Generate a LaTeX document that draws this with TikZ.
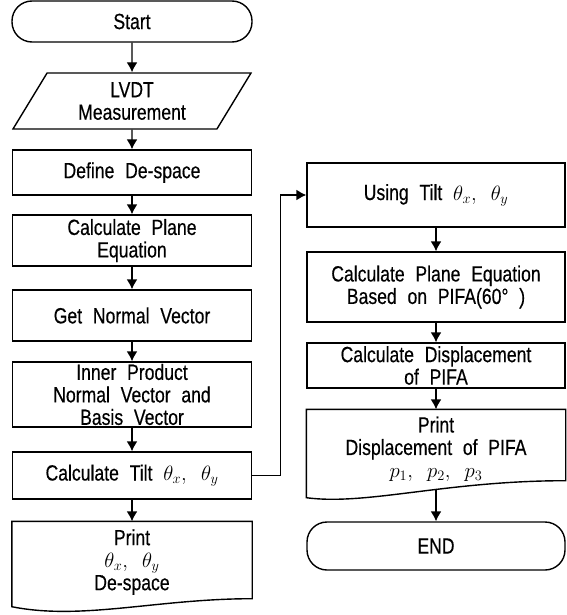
\documentclass[tikz,border=0pt]{standalone}
\usepackage{fontspec}
\setmainfont[FakeStretch=0.8,FakeBold=0.4,WordSpace=2.2]{Liberation Sans}
\usetikzlibrary{arrows.meta,shapes.geometric}
\newcommand{\flowfont}{\fontsize{22}{22.5}\selectfont}
\tikzset{
  box/.style={draw, rectangle, inner sep=0pt, align=center, font=\flowfont},
  term/.style={box, rounded corners=20pt},
  io/.style={draw, trapezium, trapezium left angle=48, trapezium right angle=132,
    trapezium stretches body, inner sep=0pt, align=center, font=\flowfont},
  docbox/.style={rectangle, inner sep=0pt, align=center, font=\flowfont}
}
\begin{document}
\begin{tikzpicture}[node distance=70pt, line width=1.4pt, >={Latex[length=10pt,width=11pt]}]
\useasboundingbox (0,0) rectangle (566pt,-615pt);

% left column
\node (start) [term, minimum width=240pt, minimum height=41pt] at (132pt,-21.5pt) {Start};
\node (lvdt) [io, below of=start, node distance=79.5pt, minimum width=238pt, minimum height=56pt] {LVDT\\Measurement};
\node (defs) [box, below of=lvdt, node distance=71.5pt, minimum width=239pt, minimum height=45pt] {Define De-space};
\node (plane) [box, below of=defs, node distance=68pt, minimum width=239pt, minimum height=51pt] {Calculate Plane\\Equation};
\node (normal) [box, below of=plane, node distance=75pt, minimum width=239pt, minimum height=51pt] {Get Normal Vector};
\node (inner) [box, below of=normal, node distance=79pt, minimum width=239pt, minimum height=65pt] {Inner Product\\Normal Vector and\\Basis Vector};
\node (tilt) [box, below of=inner, node distance=81pt, minimum width=239pt, minimum height=47pt] {Calculate Tilt $\theta_x,\ \theta_y$};
\node (prt) [docbox, below of=tilt, node distance=86.5pt, minimum width=239pt, minimum height=80pt] {Print\\$\theta_x,\ \theta_y$\\De-space};

% right column
\node (using) [box, minimum width=258pt, minimum height=64pt] at (436pt,-195pt) {Using Tilt $\theta_x,\ \theta_y$};
\node (pifa) [box, below of=using, node distance=92pt, minimum width=258pt, minimum height=70pt] {Calculate Plane Equation\\Based on PIFA(60°\ )};
\node (disp) [box, below of=pifa, node distance=78.5pt, minimum width=258pt, minimum height=45pt] {Calculate Displacement\\of PIFA};
\node (prtp) [docbox, below of=disp, node distance=83.5pt, minimum width=258pt, minimum height=78pt] {Print\\Displacement of PIFA\\$p_1,\ p_2,\ p_3$};
\node (stop) [term, below of=prtp, node distance=97pt, minimum width=258pt, minimum height=48pt] {END};

% document outlines
\draw ([yshift=-4pt]prt.south west) .. controls +(70pt,-14pt) and +(-95pt,0pt) .. ([yshift=4pt]prt.south east)
  -- (prt.north east) -- (prt.north west) -- cycle;
\draw ([yshift=-9pt]prtp.south west) .. controls +(60pt,-8pt) and +(-120pt,0pt) .. ([yshift=8pt]prtp.south east)
  -- (prtp.north east) -- (prtp.north west) -- cycle;

\draw[->] (start) -- (lvdt);
\draw[->] (lvdt) -- (defs);
\draw[->] (defs) -- (plane);
\draw[->] (plane) -- (normal);
\draw[->] (normal) -- (inner);
\draw[->] (inner) -- (tilt);
\draw[->] (tilt) -- (prt);
\draw[->] (tilt.east) -- ++(28pt,0) |- (using.west);
\draw[->] (using) -- (pifa);
\draw[->] (pifa) -- (disp);
\draw[->] (disp) -- (prtp);
\draw[->] (prtp) -- (stop);
\end{tikzpicture}
\end{document}
